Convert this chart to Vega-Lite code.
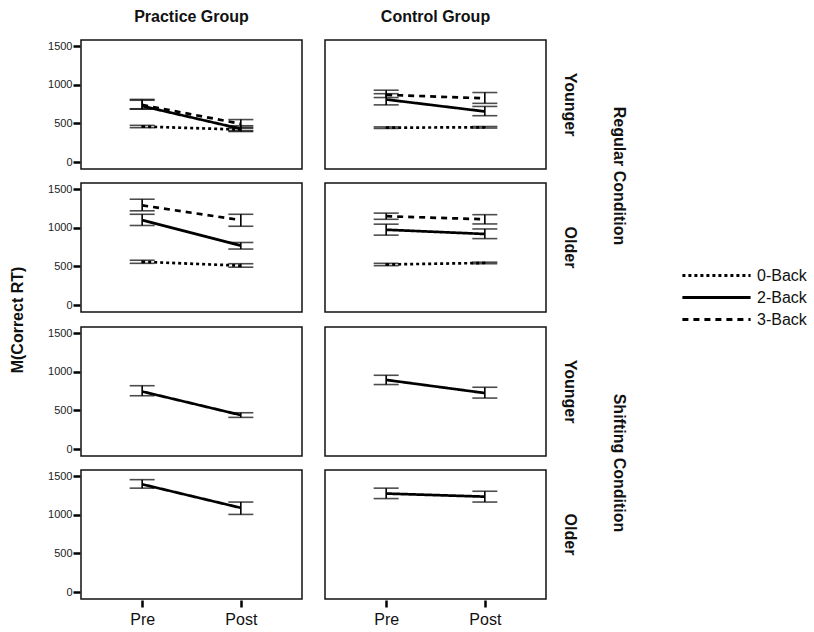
{
  "$schema": "https://vega.github.io/schema/vega-lite/v6.json",
  "padding": {"left": 5, "top": 9, "right": 0, "bottom": 0},
  "datasets": {
    "rt": [
      {"cond": "Regular", "age": "Younger", "group": "Practice Group", "load": "0-Back", "time": "Pre", "mean": 460, "lo": 445, "hi": 475},
      {"cond": "Regular", "age": "Younger", "group": "Practice Group", "load": "0-Back", "time": "Post", "mean": 420, "lo": 405, "hi": 435},
      {"cond": "Regular", "age": "Younger", "group": "Practice Group", "load": "2-Back", "time": "Pre", "mean": 725, "lo": 684, "hi": 800},
      {"cond": "Regular", "age": "Younger", "group": "Practice Group", "load": "2-Back", "time": "Post", "mean": 430, "lo": 395, "hi": 470},
      {"cond": "Regular", "age": "Younger", "group": "Practice Group", "load": "3-Back", "time": "Pre", "mean": 740, "lo": 690, "hi": 811},
      {"cond": "Regular", "age": "Younger", "group": "Practice Group", "load": "3-Back", "time": "Post", "mean": 495, "lo": 450, "hi": 550},
      {"cond": "Regular", "age": "Younger", "group": "Control Group", "load": "0-Back", "time": "Pre", "mean": 445, "lo": 435, "hi": 455},
      {"cond": "Regular", "age": "Younger", "group": "Control Group", "load": "0-Back", "time": "Post", "mean": 450, "lo": 440, "hi": 460},
      {"cond": "Regular", "age": "Younger", "group": "Control Group", "load": "2-Back", "time": "Pre", "mean": 810, "lo": 740, "hi": 885},
      {"cond": "Regular", "age": "Younger", "group": "Control Group", "load": "2-Back", "time": "Post", "mean": 655, "lo": 600, "hi": 720},
      {"cond": "Regular", "age": "Younger", "group": "Control Group", "load": "3-Back", "time": "Pre", "mean": 870, "lo": 835, "hi": 930},
      {"cond": "Regular", "age": "Younger", "group": "Control Group", "load": "3-Back", "time": "Post", "mean": 825, "lo": 760, "hi": 900},
      {"cond": "Regular", "age": "Older", "group": "Practice Group", "load": "0-Back", "time": "Pre", "mean": 560, "lo": 540, "hi": 580},
      {"cond": "Regular", "age": "Older", "group": "Practice Group", "load": "0-Back", "time": "Post", "mean": 510, "lo": 490, "hi": 535},
      {"cond": "Regular", "age": "Older", "group": "Practice Group", "load": "2-Back", "time": "Pre", "mean": 1100, "lo": 1030, "hi": 1175},
      {"cond": "Regular", "age": "Older", "group": "Practice Group", "load": "2-Back", "time": "Post", "mean": 770, "lo": 725, "hi": 810},
      {"cond": "Regular", "age": "Older", "group": "Practice Group", "load": "3-Back", "time": "Pre", "mean": 1290, "lo": 1220, "hi": 1370},
      {"cond": "Regular", "age": "Older", "group": "Practice Group", "load": "3-Back", "time": "Post", "mean": 1100, "lo": 1020, "hi": 1175},
      {"cond": "Regular", "age": "Older", "group": "Control Group", "load": "0-Back", "time": "Pre", "mean": 525, "lo": 510, "hi": 540},
      {"cond": "Regular", "age": "Older", "group": "Control Group", "load": "0-Back", "time": "Post", "mean": 545, "lo": 535, "hi": 555},
      {"cond": "Regular", "age": "Older", "group": "Control Group", "load": "2-Back", "time": "Pre", "mean": 975, "lo": 905, "hi": 1047},
      {"cond": "Regular", "age": "Older", "group": "Control Group", "load": "2-Back", "time": "Post", "mean": 920, "lo": 860, "hi": 985},
      {"cond": "Regular", "age": "Older", "group": "Control Group", "load": "3-Back", "time": "Pre", "mean": 1150, "lo": 1110, "hi": 1190},
      {"cond": "Regular", "age": "Older", "group": "Control Group", "load": "3-Back", "time": "Post", "mean": 1110, "lo": 1050, "hi": 1170},
      {"cond": "Shifting", "age": "Younger", "group": "Practice Group", "load": "2-Back", "time": "Pre", "mean": 745, "lo": 690, "hi": 820},
      {"cond": "Shifting", "age": "Younger", "group": "Practice Group", "load": "2-Back", "time": "Post", "mean": 440, "lo": 410, "hi": 470},
      {"cond": "Shifting", "age": "Younger", "group": "Control Group", "load": "2-Back", "time": "Pre", "mean": 895, "lo": 835, "hi": 955},
      {"cond": "Shifting", "age": "Younger", "group": "Control Group", "load": "2-Back", "time": "Post", "mean": 725, "lo": 660, "hi": 800},
      {"cond": "Shifting", "age": "Older", "group": "Practice Group", "load": "2-Back", "time": "Pre", "mean": 1395, "lo": 1345, "hi": 1455},
      {"cond": "Shifting", "age": "Older", "group": "Practice Group", "load": "2-Back", "time": "Post", "mean": 1090, "lo": 1005, "hi": 1165},
      {"cond": "Shifting", "age": "Older", "group": "Control Group", "load": "2-Back", "time": "Pre", "mean": 1275, "lo": 1210, "hi": 1345},
      {"cond": "Shifting", "age": "Older", "group": "Control Group", "load": "2-Back", "time": "Post", "mean": 1235, "lo": 1165, "hi": 1305}
    ],
    "ytitle": [{"t": "M(Correct RT)"}]
  },
  "config": {
    "font": "Liberation Sans",
    "view": {"stroke": "#111", "strokeWidth": 1.5},
    "axis": {"domain": false, "grid": false, "tickColor": "#000", "tickWidth": 2.5, "tickSize": 7, "labelColor": "#222"},
    "axisY": {"labelFontSize": 11, "labelPadding": 1, "format": "d"},
    "axisX": {"labelFontSize": 16, "labelPadding": 4, "labelColor": "#111"},
    "header": {"labelFontSize": 16, "labelFontWeight": "bold", "titleFontSize": 16, "titleFontWeight": "bold", "labelColor": "#111", "titleColor": "#111"},
    "legend": {"orient": "none", "legendX": 699, "legendY": 223, "title": null, "symbolType": "M-3.1,0H3.1", "symbolSize": 484, "symbolStrokeWidth": 3, "symbolStrokeColor": "#000", "labelOffset": 28, "labelFontSize": 16, "labelColor": "#111", "rowPadding": 1}
  },
  "spacing": 16,
  "hconcat": [
    {
      "data": {"name": "ytitle"},
      "width": 26,
      "height": 560,
      "view": {"stroke": null},
      "mark": {"type": "text", "angle": 270, "fontSize": 16, "fontWeight": "bold", "color": "#111"},
      "encoding": {"text": {"field": "t"}}
    },
    {
      "spacing": 13,
      "vconcat": [
        {
          "data": {"name": "rt"},
          "transform": [{"filter": "datum.cond === 'Regular'"}],
          "facet": {
            "row": {"field": "age", "sort": ["Younger", "Older"], "title": "Regular Condition",
                    "header": {"labelOrient": "right", "labelAngle": 90, "labelPadding": 15, "titleOrient": "right", "titleAngle": 90, "titlePadding": 23}},
            "column": {"field": "group", "sort": ["Practice Group", "Control Group"], "title": null,
                       "header": {"labelPadding": 14}}
          },
          "spacing": {"row": 12, "column": 21},
          "spec": {
            "width": 221,
            "height": 129,
            "layer": [
              {
                "mark": {"type": "line", "color": "#000", "strokeWidth": 2.7},
                "encoding": {
                  "x": {"field": "time", "type": "ordinal", "scale": {"type": "point", "padding": 0.62, "domain": ["Pre", "Post"]}, "axis": null},
                  "y": {"field": "mean", "type": "quantitative", "scale": {"domain": [-90, 1580], "nice": false, "zero": false}, "axis": {"values": [0, 250, 500, 750, 1000, 1250, 1500], "title": null}},
                  "strokeDash": {"field": "load", "type": "nominal", "scale": {"domain": ["0-Back", "2-Back", "3-Back"], "range": [[3, 3], [1, 0], [6, 5]]}}
                }
              },
              {
                "mark": {"type": "errorbar", "color": "#000", "thickness": 1.6, "ticks": {"size": 25, "thickness": 1.6, "color": "#000"}},
                "encoding": {
                  "x": {"field": "time", "type": "ordinal", "scale": {"type": "point", "padding": 0.62, "domain": ["Pre", "Post"]}, "axis": null},
                  "y": {"field": "lo", "type": "quantitative", "title": null},
                  "y2": {"field": "hi"},
                  "detail": {"field": "load"}
                }
              }
            ]
          }
        },
        {
          "data": {"name": "rt"},
          "transform": [{"filter": "datum.cond === 'Shifting'"}],
          "facet": {
            "row": {"field": "age", "sort": ["Younger", "Older"], "title": "Shifting Condition",
                    "header": {"labelOrient": "right", "labelAngle": 90, "labelPadding": 15, "titleOrient": "right", "titleAngle": 90, "titlePadding": 23}},
            "column": {"field": "group", "sort": ["Practice Group", "Control Group"], "title": null,
                       "header": {"labels": false}}
          },
          "spacing": {"row": 12, "column": 21},
          "spec": {
            "width": 221,
            "height": 129,
            "layer": [
              {
                "mark": {"type": "line", "color": "#000", "strokeWidth": 2.7},
                "encoding": {
                  "x": {"field": "time", "type": "ordinal", "scale": {"type": "point", "padding": 0.62, "domain": ["Pre", "Post"]}, "axis": {"title": null, "labelAngle": 0}},
                  "y": {"field": "mean", "type": "quantitative", "scale": {"domain": [-90, 1580], "nice": false, "zero": false}, "axis": {"values": [0, 250, 500, 750, 1000, 1250, 1500], "title": null}},
                  "strokeDash": {"field": "load", "type": "nominal", "scale": {"domain": ["0-Back", "2-Back", "3-Back"], "range": [[3, 3], [1, 0], [6, 5]]}}
                }
              },
              {
                "mark": {"type": "errorbar", "color": "#000", "thickness": 1.6, "ticks": {"size": 25, "thickness": 1.6, "color": "#000"}},
                "encoding": {
                  "x": {"field": "time", "type": "ordinal", "scale": {"type": "point", "padding": 0.62, "domain": ["Pre", "Post"]}, "axis": {"title": null, "labelAngle": 0}},
                  "y": {"field": "lo", "type": "quantitative", "title": null},
                  "y2": {"field": "hi"},
                  "detail": {"field": "load"}
                }
              }
            ]
          }
        }
      ]
    }
  ]
}
